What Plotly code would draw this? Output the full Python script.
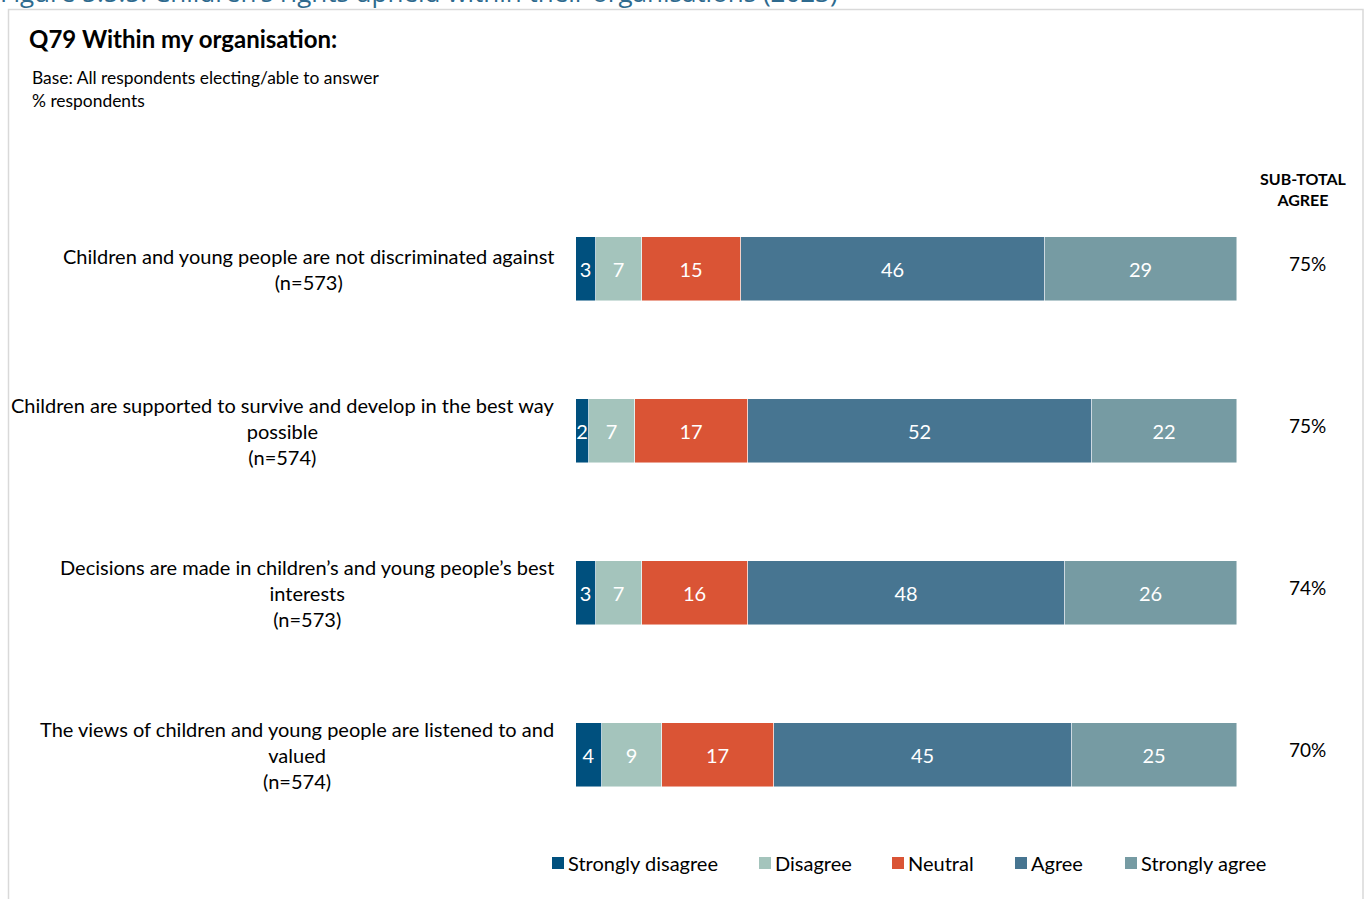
import plotly.graph_objects as go

# ---------------- data ----------------
categories = [
    "Children and young people are not discriminated against<br>(n=573)",
    "Children are supported to survive and develop in the best way<br>possible<br>(n=574)",
    "Decisions are made in children’s and young people’s best<br>interests<br>(n=573)",
    "The views of children and young people are listened to and<br>valued<br>(n=574)",
]
series_names = ["Strongly disagree", "Disagree", "Neutral", "Agree", "Strongly agree"]
strongly_disagree = [3, 2, 3, 4]
disagree = [7, 7, 7, 9]
neutral = [15, 17, 16, 17]
agree = [46, 52, 48, 45]
strongly_agree = [29, 22, 26, 25]
subtotal_agree = [75, 75, 74, 70]
series_values = [strongly_disagree, disagree, neutral, agree, strongly_agree]
colors = ["#00507E", "#A4C4BC", "#DA5435", "#477591", "#769BA3"]

# ---------------- layout helpers (pixel -> paper) ----------------
W, H = 1367, 899
L, R, T, B = 576, 1237, 188, 836


def px(x):
    return (x - L) / (R - L)


def py(y):
    return (B - y) / (B - T)


FONT = "Lato"

fig = go.Figure()
for name, vals, col in zip(series_names, series_values, colors):
    fig.add_trace(go.Bar(
        y=categories, x=vals, name=name, orientation="h",
        marker=dict(color=col, line=dict(color="rgba(255,255,255,0.6)", width=0.8)),
        width=0.395,
        text=[str(v) for v in vals], textposition="inside",
        insidetextanchor="middle",
        textfont=dict(color="white", size=20, family=FONT),
        showlegend=False, hoverinfo="skip", cliponaxis=False,
    ))

annotations = []
# category labels
for cat in categories:
    annotations.append(dict(
        x=px(556), xref="paper", y=cat, yref="y", text=cat,
        xanchor="right", yanchor="middle", align="center", showarrow=False,
        font=dict(size=20, family=FONT, color="#000000"),
    ))
# subtotal values
for cat, v in zip(categories, subtotal_agree):
    annotations.append(dict(
        x=px(1307), xref="paper", y=cat, yref="y", text=f"{v}%",
        xanchor="center", yanchor="middle", showarrow=False, yshift=6,
        font=dict(size=19, family=FONT, color="#000000"),
    ))
annotations.append(dict(
    x=px(1303), xref="paper", y=py(189.5), yref="paper", text="<b>SUB-TOTAL<br>AGREE</b>",
    xanchor="center", yanchor="middle", align="center", showarrow=False,
    font=dict(size=16, family=FONT, color="#000000"),
))
# titles
annotations.append(dict(
    x=px(-2), xref="paper", y=py(-8), yref="paper",
    text="Figure 5.5.5: Children’s rights upheld within their organisations (2023)",
    xanchor="left", yanchor="middle", showarrow=False,
    font=dict(size=26, family="Open Sans", color="#2E6A8E"),
))
annotations.append(dict(
    x=px(27), xref="paper", y=py(38), yref="paper", text="<b>Q79 Within my organisation:</b>",
    xanchor="left", yanchor="middle", showarrow=False,
    font=dict(size=24, family=FONT, color="#000000"),
))
annotations.append(dict(
    x=px(30), xref="paper", y=py(77), yref="paper", text="Base: All respondents electing/able to answer",
    xanchor="left", yanchor="middle", showarrow=False,
    font=dict(size=17.4, family=FONT, color="#000000"),
))
annotations.append(dict(
    x=px(30), xref="paper", y=py(100), yref="paper", text="% respondents",
    xanchor="left", yanchor="middle", showarrow=False,
    font=dict(size=17.4, family=FONT, color="#000000"),
))

# legend (manual)
legend_sq_x = [552, 759, 892, 1015, 1125]
shapes = []
for name, col, sx in zip(series_names, colors, legend_sq_x):
    shapes.append(dict(type="rect", xref="paper", yref="paper",
                       x0=px(sx), x1=px(sx + 12), y0=py(869), y1=py(857),
                       fillcolor=col, line=dict(width=0)))
    annotations.append(dict(
        x=px(sx + 14), xref="paper", y=py(863), yref="paper", text=name,
        xanchor="left", yanchor="middle", showarrow=False,
        font=dict(size=20, family=FONT, color="#000000"),
    ))
# frame
shapes.append(dict(type="rect", xref="paper", yref="paper",
                   x0=px(8.5), x1=px(1363), y0=py(920), y1=py(9.5),
                   line=dict(color="#D9D9D9", width=1.5), fillcolor="rgba(0,0,0,0)", layer="below"))

fig.update_layout(
    width=W, height=H,
    margin=dict(l=L, r=W - R, t=T, b=H - B, pad=0),
    barmode="stack", bargap=0,
    plot_bgcolor="white", paper_bgcolor="white",
    xaxis=dict(range=[0, 100], visible=False, fixedrange=True),
    yaxis=dict(categoryorder="array", categoryarray=categories, range=[3.5, -0.5],
               showticklabels=False, showgrid=False, zeroline=False, showline=False,
               fixedrange=True),
    uniformtext=dict(minsize=20, mode="show"),
    annotations=annotations, shapes=shapes,
    font=dict(family=FONT),
)

fig.write_html("out.html", config={"displayModeBar": False},
               post_script="document.body.style.margin='0';document.body.style.overflow='hidden';")
